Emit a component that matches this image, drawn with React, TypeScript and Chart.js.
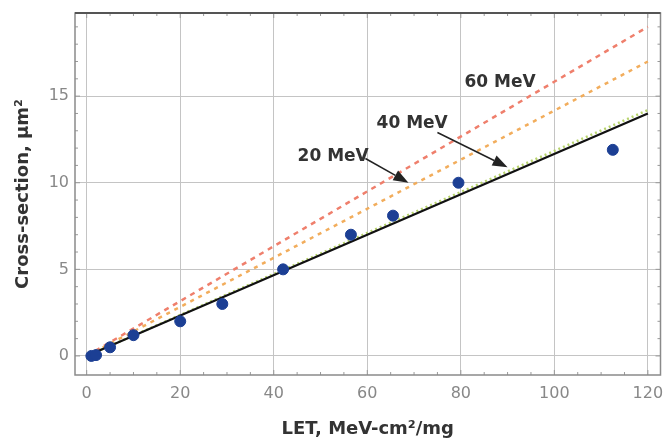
import React, { useEffect, useRef } from "react";
import { Chart, registerables } from "chart.js";

Chart.register(...registerables);

// ---- data ----
const xTicks = [0, 20, 40, 60, 80, 100, 120];
const yTicks = [0, 5, 10, 15];
const xMinorTicks = [5, 10, 15, 25, 30, 35, 45, 50, 55, 65, 70, 75, 85, 90, 95, 105, 110, 115];
const yMinorTicks = [1, 2, 3, 4, 6, 7, 8, 9, 11, 12, 13, 14, 16, 17, 18, 19];

const measuredLET = [1, 2, 5, 10, 20, 29, 42, 56.5, 65.5, 79.5, 112.5];
const measuredSigma = [0, 0.05, 0.5, 1.2, 2.0, 3.0, 5.0, 7.0, 8.1, 10.0, 11.9];

const lineLET = [0, 120];
const blackSigma = [0, 14];
const greenSigma = [0, 14.2];
const orangeSigma = [0, 17];
const redSigma = [0, 19];

const labelTexts = ["60 MeV", "40 MeV", "20 MeV"];
const labelX = [88.4, 69.6, 52.7];
const labelY = [15.8, 13.4, 11.5];

const arrowFromX = [75.0, 59.6];
const arrowFromY = [12.9, 11.4];
const arrowToX = [90.0, 68.8];
const arrowToY = [10.9, 10.0];

const xTitle = "LET, MeV-cm²/mg";
const yTitle = "Cross-section, μm²";

const FONT = "'DejaVu Sans', Arial, sans-serif";

function pts(xs: number[], ys: number[]) {
  return xs.map((x, i) => ({ x, y: ys[i] }));
}

const framePlugin = {
  id: "framePlugin",
  afterDraw(chart: any) {
    const { ctx, chartArea: a, scales } = chart;
    const xs = scales.x;
    const ys = scales.y;
    ctx.save();
    // minor/major ticks inside frame
    ctx.strokeStyle = "#999";
    ctx.lineWidth = 1;
    ctx.beginPath();
    const tickX = (v: number, len: number) => {
      const px = xs.getPixelForValue(v);
      ctx.moveTo(px, a.bottom);
      ctx.lineTo(px, a.bottom - len);
      ctx.moveTo(px, a.top);
      ctx.lineTo(px, a.top + len);
    };
    const tickY = (v: number, len: number) => {
      const py = ys.getPixelForValue(v);
      ctx.moveTo(a.left, py);
      ctx.lineTo(a.left + len, py);
      ctx.moveTo(a.right, py);
      ctx.lineTo(a.right - len, py);
    };
    xMinorTicks.forEach((v) => tickX(v, 3));
    yMinorTicks.forEach((v) => tickY(v, 3));
    xTicks.forEach((v) => tickX(v, 5));
    yTicks.forEach((v) => tickY(v, 5));
    ctx.stroke();
    // frame
    ctx.strokeStyle = "#8a8a8a";
    ctx.lineWidth = 1.5;
    ctx.strokeRect(a.left, a.top, a.right - a.left, a.bottom - a.top);
    ctx.strokeStyle = "#555";
    ctx.lineWidth = 2;
    ctx.beginPath();
    ctx.moveTo(a.left, a.top);
    ctx.lineTo(a.right, a.top);
    ctx.stroke();

    // annotations
    ctx.fillStyle = "#333";
    ctx.font = `bold 17px ${FONT}`;
    ctx.textAlign = "center";
    ctx.textBaseline = "middle";
    labelTexts.forEach((t, i) => {
      ctx.fillText(t, xs.getPixelForValue(labelX[i]), ys.getPixelForValue(labelY[i]));
    });
    ctx.strokeStyle = "#222";
    ctx.fillStyle = "#222";
    ctx.lineWidth = 1.5;
    arrowFromX.forEach((_, i) => {
      const x0 = xs.getPixelForValue(arrowFromX[i]);
      const y0 = ys.getPixelForValue(arrowFromY[i]);
      const x1 = xs.getPixelForValue(arrowToX[i]);
      const y1 = ys.getPixelForValue(arrowToY[i]);
      const ang = Math.atan2(y1 - y0, x1 - x0);
      const hl = 15;
      const hw = 5.5;
      const bx = x1 - hl * Math.cos(ang);
      const by = y1 - hl * Math.sin(ang);
      ctx.beginPath();
      ctx.moveTo(x0, y0);
      ctx.lineTo(bx, by);
      ctx.stroke();
      ctx.beginPath();
      ctx.moveTo(x1, y1);
      ctx.lineTo(bx + hw * Math.sin(ang), by - hw * Math.cos(ang));
      ctx.lineTo(bx - hw * Math.sin(ang), by + hw * Math.cos(ang));
      ctx.closePath();
      ctx.fill();
    });
    ctx.restore();
  },
};

export default function App() {
  const ref = useRef<HTMLCanvasElement | null>(null);

  useEffect(() => {
    document.body.style.margin = "0";
    if (!ref.current) return;
    const chart = new Chart(ref.current, {
      type: "scatter",
      data: {
        datasets: [
          {
            type: "line",
            data: pts(lineLET, redSigma),
            borderColor: "#ef7f6c",
            borderWidth: 2.5,
            borderDash: [5, 5],
            pointRadius: 0,
            order: 4,
          } as any,
          {
            type: "line",
            data: pts(lineLET, orangeSigma),
            borderColor: "#f2ad5c",
            borderWidth: 2.5,
            borderDash: [4, 5],
            pointRadius: 0,
            order: 3,
          } as any,
          {
            type: "line",
            data: pts(lineLET, greenSigma),
            borderColor: "#b7d36c",
            borderWidth: 2.5,
            borderDash: [2, 3],
            pointRadius: 0,
            order: 2,
          } as any,
          {
            type: "line",
            data: pts(lineLET, blackSigma),
            borderColor: "#111",
            borderWidth: 2.2,
            pointRadius: 0,
            order: 1,
          } as any,
          {
            type: "scatter",
            data: pts(measuredLET, measuredSigma),
            backgroundColor: "#1c3f94",
            borderColor: "#1c3f94",
            pointRadius: 5.5,
            order: 0,
          },
        ],
      },
      options: {
        responsive: false,
        animation: false,
        layout: { padding: { top: 13, right: 4, left: 0, bottom: 0 } },
        plugins: {
          legend: { display: false },
          tooltip: { enabled: false },
        },
        scales: {
          x: {
            type: "linear",
            min: -2.5,
            max: 122.7,
            afterBuildTicks: (s: any) => {
              s.ticks = xTicks.map((v) => ({ value: v }));
            },
            afterFit: (s: any) => {
              s.height = 65;
              s.paddingLeft = 0;
              s.paddingRight = 0;
            },
            grid: { color: "#c4c4c4", lineWidth: 1, drawTicks: false },
            border: { display: false },
            ticks: {
              color: "#888",
              font: { family: FONT, size: 16 },
              padding: 9,
              maxRotation: 0,
            },
            title: {
              display: true,
              text: xTitle,
              color: "#333",
              font: { family: FONT, size: 18, weight: "bold" },
              padding: { top: 0, bottom: 0 },
            },
          },
          y: {
            type: "linear",
            min: -1.1,
            max: 19.8,
            afterBuildTicks: (s: any) => {
              s.ticks = yTicks.map((v) => ({ value: v }));
            },
            afterFit: (s: any) => {
              s.width = 75;
              s.paddingTop = 0;
              s.paddingBottom = 0;
            },
            grid: { color: "#c4c4c4", lineWidth: 1, drawTicks: false },
            border: { display: false },
            ticks: {
              color: "#888",
              font: { family: FONT, size: 16 },
              padding: 6,
            },
            title: {
              display: true,
              text: yTitle,
              color: "#333",
              font: { family: FONT, size: 18, weight: "bold" },
              padding: { top: 13, bottom: 0 },
            },
          },
        },
      },
      plugins: [framePlugin],
    });
    return () => chart.destroy();
  }, []);

  return (
    <div style={{ position: "absolute", left: 0, top: 0, width: 667, height: 440, background: "#fff" }}>
      <canvas ref={ref} width={667} height={440} style={{ width: 667, height: 440, display: "block" }} />
    </div>
  );
}
